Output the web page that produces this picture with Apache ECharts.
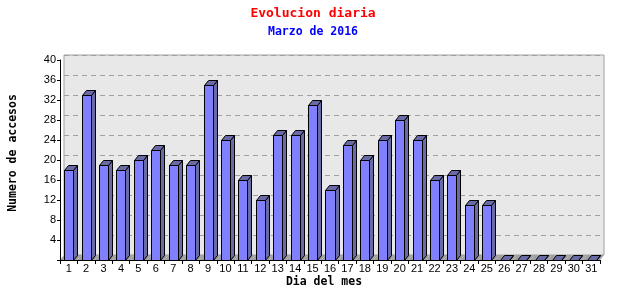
<!DOCTYPE html>
<html>
<head>
<meta charset="utf-8">
<script src="https://cdn.jsdelivr.net/npm/echarts@6/dist/echarts.min.js"></script>
<style>html,body{margin:0;padding:0;background:#fff}#c{width:640px;height:300px}</style>
</head>
<body>
<div id="c"></div>
<script>
const titleText = 'Evolucion diaria';
const subtitleText = 'Marzo de 2016';
const xName = 'Dia del mes';
const yName = 'Numero de accesos';
const days = ['1','2','3','4','5','6','7','8','9','10','11','12','13','14','15','16','17','18','19','20','21','22','23','24','25','26','27','28','29','30','31'];
const visits = [18,33,19,18,20,22,19,19,35,24,16,12,25,25,31,14,23,20,24,28,24,16,17,11,11,0,0,0,0,0,0];
const yTicks = [4,8,12,16,20,24,28,32,36,40];

const DX = 4, DY = -5;
const FRONT = '#8080ff', SIDE = '#6a6aa6', FLOOR = '#a0a0a0';

const chart = echarts.init(document.getElementById('c'), null, {renderer: 'canvas'});

function floorItem(params, api) {
  const i = api.value(0);
  const c0 = api.coord([i, 0]);
  const w = api.size([1, 0])[0];
  const xl = c0[0] - w / 2, xr = c0[0] + w / 2, y = c0[1];
  return {
    type: 'polygon',
    shape: {points: [[xl, y], [xr, y], [xr + DX, y + DY], [xl + DX, y + DY]]},
    style: {fill: FLOOR, stroke: null}
  };
}

function barItem(params, api) {
  const i = api.value(0);
  const v = api.value(1);
  const top = api.coord([i, v]);
  const base = api.coord([i, 0]);
  const band = api.size([1, 0])[0];
  const bw = band * 0.52;
  const x0 = Math.round(top[0] - bw / 2) + 0.5, x1 = Math.round(top[0] + bw / 2) + 0.5;
  const yt = Math.round(top[1]) + 0.5, yb = Math.round(base[1]) + 0.5;
  const st = {stroke: '#000', lineWidth: 1};
  return {
    type: 'group',
    children: [
      {type: 'polygon', shape: {points: [[x1, yb], [x1 + DX, yb + DY], [x1 + DX, yt + DY], [x1, yt]]}, style: Object.assign({fill: SIDE}, st)},
      {type: 'polygon', shape: {points: [[x0, yt], [x1, yt], [x1 + DX, yt + DY], [x0 + DX, yt + DY]]}, style: Object.assign({fill: SIDE}, st)},
      {type: 'rect', shape: {x: x0, y: yt, width: x1 - x0, height: yb - yt}, style: Object.assign({fill: FRONT}, st)}
    ]
  };
}

const tickFont = {fontFamily: 'Liberation Sans', fontSize: 11, color: '#000'};

chart.setOption({
  animation: false,
  backgroundColor: '#fff',
  grid: [
    {left: 60, top: 60, width: 540, height: 200, show: false},
    {left: 64, top: 55, width: 540, height: 200, show: true, backgroundColor: '#e8e8e8', borderColor: '#a0a0a0', borderWidth: 1, z: 0}
  ],
  xAxis: [
    {type: 'category', gridIndex: 0, data: days, boundaryGap: true,
     axisLine: {lineStyle: {color: '#000'}},
     axisTick: {show: true, interval: 0, length: 4, lineStyle: {color: '#000'}},
     axisLabel: Object.assign({interval: 0, margin: 3}, tickFont),
     splitLine: {show: false}, z: 5},
    {type: 'category', gridIndex: 1, data: days, show: false}
  ],
  yAxis: [
    {type: 'value', gridIndex: 0, min: 0, max: 40, interval: 4,
     axisLine: {show: true, lineStyle: {color: '#000'}},
     axisTick: {show: true, length: 3, lineStyle: {color: '#000'}},
     axisLabel: Object.assign({margin: 4, formatter: v => (yTicks.indexOf(v) >= 0 ? String(v) : '')}, tickFont),
     splitLine: {show: false}, z: 5},
    {type: 'value', gridIndex: 1, min: 0, max: 40, interval: 4,
     axisLine: {show: false}, axisTick: {show: false}, axisLabel: {show: false},
     splitLine: {show: true, lineStyle: {color: '#a0a0a0', type: [5, 4], width: 1}}}
  ],
  series: [
    {type: 'custom', xAxisIndex: 0, yAxisIndex: 0, z: 2, renderItem: floorItem,
     data: days.map((d, i) => [i, 0])},
    {type: 'custom', xAxisIndex: 0, yAxisIndex: 0, z: 3, renderItem: barItem,
     data: visits.map((v, i) => [i, v])}
  ],
  graphic: [
    {type: 'text', x: 313, y: 14, style: {text: titleText, fill: '#ff0000', font: 'bold 13px "DejaVu Sans Mono"', textAlign: 'center', textVerticalAlign: 'middle'}},
    {type: 'text', x: 313, y: 32, style: {text: subtitleText, fill: '#0000ff', font: 'bold 11.5px "DejaVu Sans Mono"', textAlign: 'center', textVerticalAlign: 'middle'}},
    {type: 'text', x: 324, y: 282, style: {text: xName, fill: '#000', font: 'bold 11.5px "DejaVu Sans Mono"', textAlign: 'center', textVerticalAlign: 'middle'}},
    {type: 'text', x: 13, y: 153, rotation: Math.PI / 2, style: {text: yName, fill: '#000', font: 'bold 11.5px "DejaVu Sans Mono"', textAlign: 'center', textVerticalAlign: 'middle'}}
  ]
});
</script>
</body>
</html>
